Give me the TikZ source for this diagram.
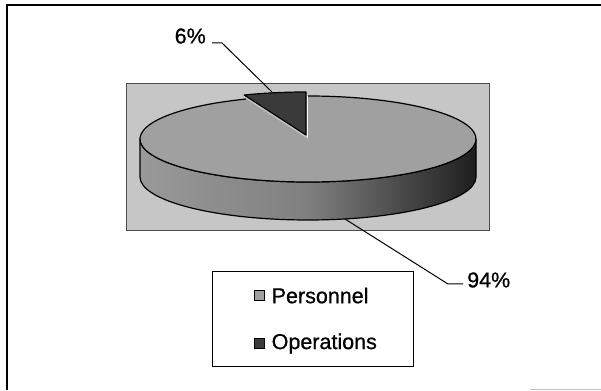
\documentclass[tikz,border=0pt]{standalone}
\usepackage{fontspec}
\setmainfont{Liberation Sans}[FakeBold=0.8]
\usetikzlibrary{calc}
\begin{document}
\begin{tikzpicture}[x=1pt,y=1pt,
  lbl/.style={font=\fontsize{21.5}{25}\selectfont, inner sep=0pt},
  leader/.style={draw=black, line width=1pt},
  rim/.style={draw=black, line width=1.2pt, line join=round},
  keybox/.style={draw=black, line width=1.1pt, minimum width=10pt, minimum height=10pt, inner sep=0pt}]
\useasboundingbox (0,0) rectangle (601,390);
\definecolor{plotbg}{HTML}{C6C6C6}
\definecolor{topface}{HTML}{A0A0A0}
\definecolor{opsdark}{HTML}{3A3A3A}

% outer chart frame
\draw[line width=1.1pt] (7,0) -- (7,385) -- (601,385);
\draw[gray!50, line width=0.8pt] (530,1) -- (601,1);

% plot area
\fill[plotbg] (126,160) rectangle (489,307);
\draw[black!70, line width=0.9pt] (126,160) rectangle (489,307);

% pie: centre and radii
\coordinate (c) at (308,251);
\def\rx{168}\def\ry{43}

% front side of the pie
\shade[left color=black!40, right color=black!88, middle color=black!50, rim]
  (140,251) -- (140,213)
  arc[start angle=180, end angle=360, x radius=\rx, y radius=\ry]
  -- (476,251)
  arc[start angle=0, end angle=-180, x radius=\rx, y radius=\ry] -- cycle;

% Personnel slice (94%) on top
\fill[topface] (c) -- ++(111.6:{\rx} and {\ry})
  arc[start angle=111.6, end angle=450, x radius=\rx, y radius=\ry] -- cycle;
\draw[rim] ($(c)+(111.6:{\rx} and {\ry})$)
  arc[start angle=111.6, end angle=450, x radius=\rx, y radius=\ry];

% Operations slice (6%), pulled out slightly
\coordinate (co) at (306,255);
\fill[opsdark] (co) -- ++(90:{\rx} and {\ry})
  arc[start angle=90, end angle=111.6, x radius=\rx, y radius=\ry] -- cycle;
\draw[rim] (co) -- ++(90:{\rx} and {\ry})
  arc[start angle=90, end angle=111.6, x radius=\rx, y radius=\ry] -- cycle;
\draw[white, line width=1.2pt] (307.6,253) -- (307.6,294);

% data labels with leader lines
\node[lbl, anchor=east] (p6) at (206,354) {6\%};
\coordinate (k6) at (222,347);
\coordinate (e6) at (272,298);
\draw[leader] (212,347) -- (k6) -- (e6);

\node[lbl, anchor=west] (p94) at (467,110) {94\%};
\coordinate (k94) at (448,106);
\coordinate (e94) at (345,171);
\draw[leader] (463,106) -- (k94) -- (e94);

% legend
\node[draw=black, line width=1pt, minimum width=201pt, minimum height=95pt,
      inner sep=0pt] (legend) at (312.5,70.5) {};
\node[keybox, fill=topface] (kp) at (259.5,94.5) {};
\node[lbl, anchor=west] (tp) at (271.5,94.5) {Personnel};
\node[keybox, fill=opsdark] (ko) at (259.5,46.5) {};
\node[lbl, anchor=west] (to) at (271.5,46.5) {Operations};
\end{tikzpicture}
\end{document}
